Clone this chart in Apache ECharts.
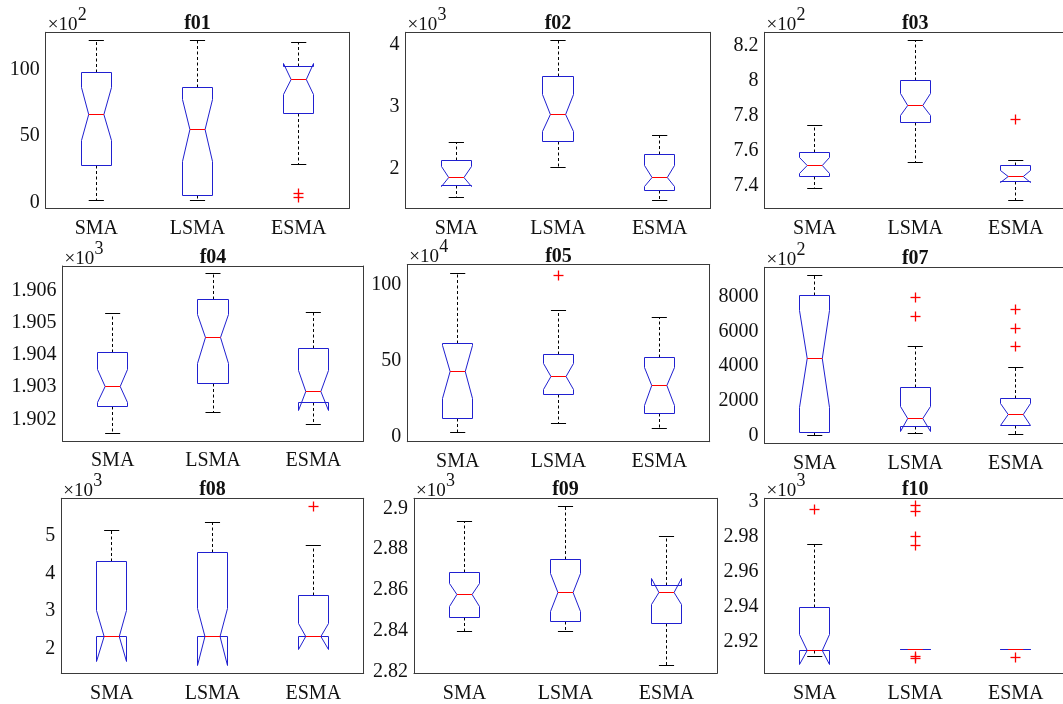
<!DOCTYPE html>
<html><head><meta charset="utf-8">
<script src="https://cdn.jsdelivr.net/npm/echarts@6/dist/echarts.min.js"></script>
<style>html,body{margin:0;padding:0;background:#fff}#c{width:1063px;height:704px}</style>
</head><body><div id="c"></div><script>
const categories = ['SMA', 'LSMA', 'ESMA'];
// each box: [whiskerLow, Q1, notchLow, median, notchHigh, Q3, whiskerHigh]
const f01_SMA = [1.7, 27.7, 47, 66.7, 87, 98, 122];
const f01_LSMA = [1.7, 5.5, 31, 55.2, 78, 86.9, 122];
const f01_ESMA = [28.7, 67.3, 81.6, 93.2, 105, 102.5, 121];
const f01_out = [[], [], [6.5, 4]];
const f01_ticks = [0, 50, 100];
const f01_range = [-4.5, 128.5];

const f02_SMA = [1.54, 1.73, 1.725, 1.867, 2.04, 2.133, 2.42];
const f02_LSMA = [2.02, 2.44, 2.605, 2.88, 3.19, 3.49, 4.06];
const f02_ESMA = [1.50, 1.66, 1.716, 1.867, 2.05, 2.225, 2.535];
const f02_out = [[], [], []];
const f02_ticks = [2, 3, 4];
const f02_range = [1.369, 4.193];

const f03_SMA = [7.385, 7.455, 7.47, 7.515, 7.56, 7.591, 7.743];
const f03_LSMA = [7.534, 7.762, 7.804, 7.861, 7.928, 8.004, 8.229];
const f03_ESMA = [7.318, 7.423, 7.418, 7.451, 7.485, 7.514, 7.547];
const f03_out = [[], [], [7.781]];
const f03_ticks = [7.4, 7.6, 7.8, 8, 8.2];
const f03_range = [7.271, 8.277];

const f04_SMA = [1.901563, 1.902393, 1.90253, 1.903017, 1.90355, 1.904089, 1.905305];
const f04_LSMA = [1.902206, 1.903101, 1.90375, 1.904557, 1.90527, 1.905720, 1.906553];
const f04_ESMA = [1.901822, 1.902518, 1.902259, 1.902882, 1.903506, 1.904192, 1.905336];
const f04_out = [[], [], []];
const f04_ticks = [1.902, 1.903, 1.904, 1.905, 1.906];
const f04_range = [1.901323, 1.906780];

const f05_SMA = [2.6, 12.1, 25.2, 42.7, 60.2, 61.3, 107.2];
const f05_LSMA = [8.8, 27.8, 31.3, 39.6, 48.2, 54.1, 83.1];
const f05_ESMA = [5.1, 14.9, 20.3, 33.3, 45.3, 51.8, 78.1];
const f05_out = [[], [105.6], []];
const f05_ticks = [0, 50, 100];
const f05_range = [-3.3, 113.1];

const f07_SMA = [40, 196, 1611, 4454, 7177, 8040, 9208];
const f07_LSMA = [110, 518, 230, 1001, 1669, 2785, 5162];
const f07_ESMA = [98, 600, 600, 1220, 1850, 2152, 3936];
const f07_out = [[], [7942, 6849], [7274, 6181, 5122]];
const f07_ticks = [0, 2000, 4000, 6000, 8000];
const f07_range = [-437, 9691];

const f08_SMA = [2.31, 2.31, 1.642, 2.31, 3.005, 4.316, 5.163];
const f08_LSMA = [2.31, 2.31, 1.553, 2.31, 3.07, 4.567, 5.369];
const f08_ESMA = [2.31, 2.31, 1.973, 2.31, 2.668, 3.406, 4.754];
const f08_out = [[], [], [5.786]];
const f08_ticks = [2, 3, 4, 5];
const f08_range = [1.332, 6.011];

const f09_SMA = [2.8396, 2.8464, 2.8518, 2.8576, 2.8633, 2.8687, 2.8934];
const f09_LSMA = [2.8396, 2.8448, 2.8495, 2.8589, 2.8683, 2.8747, 2.9008];
const f09_ESMA = [2.8228, 2.8437, 2.8527, 2.8589, 2.8657, 2.8624, 2.8864];
const f09_out = [[], [], []];
const f09_ticks = [2.82, 2.84, 2.86, 2.88, 2.9];
const f09_range = [2.8192, 2.9049];

const f10_SMA = [2.9114, 2.9149, 2.9067, 2.9149, 2.9238, 2.9397, 2.9757];
const f10_LSMA = [2.9153, 2.9153, 2.9153, 2.9153, 2.9153, 2.9153, 2.9153];
const f10_ESMA = [2.9153, 2.9153, 2.9153, 2.9153, 2.9153, 2.9153, 2.9153];
const f10_out = [[2.9953], [2.9977, 2.9943, 2.98, 2.9747, 2.9115, 2.9105], [2.9112]];
const f10_ticks = [2.92, 2.94, 2.96, 2.98, 3];
const f10_range = [2.9019, 3.0019];

const panelNames = ['f01', 'f02', 'f03', 'f04', 'f05', 'f07', 'f08', 'f09', 'f10'];
const exponents = [2, 3, 2, 3, 4, 2, 3, 3, 3];
const panelData = {
  f01: [f01_SMA, f01_LSMA, f01_ESMA, f01_out, f01_ticks, f01_range],
  f02: [f02_SMA, f02_LSMA, f02_ESMA, f02_out, f02_ticks, f02_range],
  f03: [f03_SMA, f03_LSMA, f03_ESMA, f03_out, f03_ticks, f03_range],
  f04: [f04_SMA, f04_LSMA, f04_ESMA, f04_out, f04_ticks, f04_range],
  f05: [f05_SMA, f05_LSMA, f05_ESMA, f05_out, f05_ticks, f05_range],
  f07: [f07_SMA, f07_LSMA, f07_ESMA, f07_out, f07_ticks, f07_range],
  f08: [f08_SMA, f08_LSMA, f08_ESMA, f08_out, f08_ticks, f08_range],
  f09: [f09_SMA, f09_LSMA, f09_ESMA, f09_out, f09_ticks, f09_range],
  f10: [f10_SMA, f10_LSMA, f10_ESMA, f10_out, f10_ticks, f10_range]
};

// layout: [left, top, right, bottom] in px
const layout = {
  f01: [45.7, 32.3, 349.3, 208.3],
  f02: [405.5, 32.3, 710.5, 208.3],
  f03: [764.5, 32.3, 1066, 208.3],
  f04: [62.5, 266, 363.5, 441],
  f05: [407.3, 264.5, 709.7, 441.7],
  f07: [764.5, 267.3, 1066, 443.3],
  f08: [61.3, 498.3, 363.7, 673.3],
  f09: [414, 498.3, 717, 673.3],
  f10: [764.5, 498.3, 1066, 673.3]
};

const FONT = "'Liberation Serif', 'Times New Roman', serif";
const AXIS_COLOR = '#3a3a3a';
const TEXT_COLOR = '#111111';
const BLUE = '#2020d0';
const RED = '#ff0000';

const px = v => Math.round(v - 0.5) + 0.5;

function renderBox(params, api) {
  const c = api.value(0);
  const wl = api.value(1), q1 = api.value(2), nl = api.value(3), md = api.value(4),
        nh = api.value(5), q3 = api.value(6), wh = api.value(7);
  const band = api.size([1, 0])[0];
  const half = band * 0.15, inner = half * 0.5, cap = half * 0.5;
  const cx = api.coord([c, md])[0];
  const y = v => px(api.coord([c, v])[1]);
  const L = px(cx - half), R = px(cx + half), iL = cx - inner, iR = cx + inner;
  const dashed = { stroke: '#000', lineWidth: 1, lineDash: [3, 2.5], fill: null };
  const solid = { stroke: '#000', lineWidth: 1, fill: null };
  const xc = px(cx);
  return {
    type: 'group',
    children: [
      { type: 'line', shape: { x1: xc, y1: y(q3), x2: xc, y2: y(wh) }, style: dashed },
      { type: 'line', shape: { x1: xc, y1: y(q1), x2: xc, y2: y(wl) }, style: dashed },
      { type: 'line', shape: { x1: cx - cap, y1: y(wh), x2: cx + cap, y2: y(wh) }, style: solid },
      { type: 'line', shape: { x1: cx - cap, y1: y(wl), x2: cx + cap, y2: y(wl) }, style: solid },
      { type: 'polygon', shape: { points: [
          [L, y(q1)], [L, y(nl)], [iL, y(md)], [L, y(nh)], [L, y(q3)],
          [R, y(q3)], [R, y(nh)], [iR, y(md)], [R, y(nl)], [R, y(q1)]
        ] }, style: { fill: null, stroke: BLUE, lineWidth: 1 } },
      { type: 'line', shape: { x1: iL, y1: y(md), x2: iR, y2: y(md) }, style: { stroke: RED, lineWidth: 1 } }
    ]
  };
}

function renderPlus(params, api) {
  const p = api.coord([api.value(0), api.value(1)]);
  const x = px(p[0]), yy = px(p[1]), s = 5;
  return {
    type: 'group',
    children: [
      { type: 'line', shape: { x1: x - s, y1: yy, x2: x + s, y2: yy }, style: { stroke: RED, lineWidth: 1.3, fill: null } },
      { type: 'line', shape: { x1: x, y1: yy - s, x2: x, y2: yy + s }, style: { stroke: RED, lineWidth: 1.3, fill: null } }
    ]
  };
}

const fmt = v => String(+(+v).toFixed(6));

const grid = [], xAxis = [], yAxis = [], series = [], graphic = [];
panelNames.forEach((name, i) => {
  const [l, t, r, b] = layout[name];
  const [s1, s2, s3, out, ticks, range] = panelData[name];
  grid.push({ left: l, top: t, width: r - l, height: b - t, containLabel: false, outerBoundsMode: 'none' });
  const tickStyle = { inside: true, length: 4, alignWithLabel: true, lineStyle: { color: AXIS_COLOR, width: 1 } };
  const lineStyle = { show: true, onZero: false, lineStyle: { color: AXIS_COLOR, width: 1 } };
  xAxis.push({ type: 'category', gridIndex: i, data: categories, position: 'bottom', boundaryGap: true,
    axisLine: lineStyle, axisTick: tickStyle,
    axisLabel: { fontFamily: FONT, fontSize: 20, color: TEXT_COLOR, margin: 10, interval: 0 } });
  xAxis.push({ type: 'category', gridIndex: i, data: categories, position: 'top', boundaryGap: true,
    axisLine: lineStyle, axisTick: tickStyle, axisLabel: { show: false } });
  yAxis.push({ type: 'value', gridIndex: i, min: range[0], max: range[1], position: 'left',
    axisLine: lineStyle, splitLine: { show: false },
    axisTick: { inside: true, length: 4, customValues: ticks, lineStyle: { color: AXIS_COLOR, width: 1 } },
    axisLabel: { customValues: ticks, formatter: fmt, fontFamily: FONT, fontSize: 20, color: TEXT_COLOR, margin: 6 } });
  yAxis.push({ type: 'value', gridIndex: i, min: range[0], max: range[1], position: 'right',
    axisLine: lineStyle, splitLine: { show: false },
    axisTick: { inside: true, length: 4, customValues: ticks, lineStyle: { color: AXIS_COLOR, width: 1 } },
    axisLabel: { show: false, customValues: ticks } });
  const boxes = [s1, s2, s3].map((s, k) => [k].concat(s));
  series.push({ type: 'custom', xAxisIndex: 2 * i, yAxisIndex: 2 * i, renderItem: renderBox,
    encode: { x: 0, y: [1, 2, 3, 4, 5, 6, 7] }, data: boxes, silent: true, clip: true });
  const pts = [];
  out.forEach((arr, k) => arr.forEach(v => pts.push([k, v])));
  series.push({ type: 'custom', xAxisIndex: 2 * i, yAxisIndex: 2 * i, renderItem: renderPlus,
    encode: { x: 0, y: 1 }, data: pts, silent: true, clip: false, z: 5 });
  graphic.push({ type: 'text', x: (l + r) / 2, y: t - 8,
    style: { text: name, font: 'bold 20px ' + FONT, fill: TEXT_COLOR, align: 'center', verticalAlign: 'middle' } });
  graphic.push({ type: 'text', x: l + 2, y: t - 7,
    style: { text: '\u00d710', font: '19px ' + FONT, fill: TEXT_COLOR, align: 'left', verticalAlign: 'middle' } });
  graphic.push({ type: 'text', x: l + 32, y: t - 17,
    style: { text: String(exponents[i]), font: '18px ' + FONT, fill: TEXT_COLOR, align: 'left', verticalAlign: 'middle' } });
});

const chart = echarts.init(document.getElementById('c'), null, { renderer: 'canvas' });
chart.setOption({ animation: false, backgroundColor: '#fff', grid, xAxis, yAxis, series, graphic });
</script></body></html>
